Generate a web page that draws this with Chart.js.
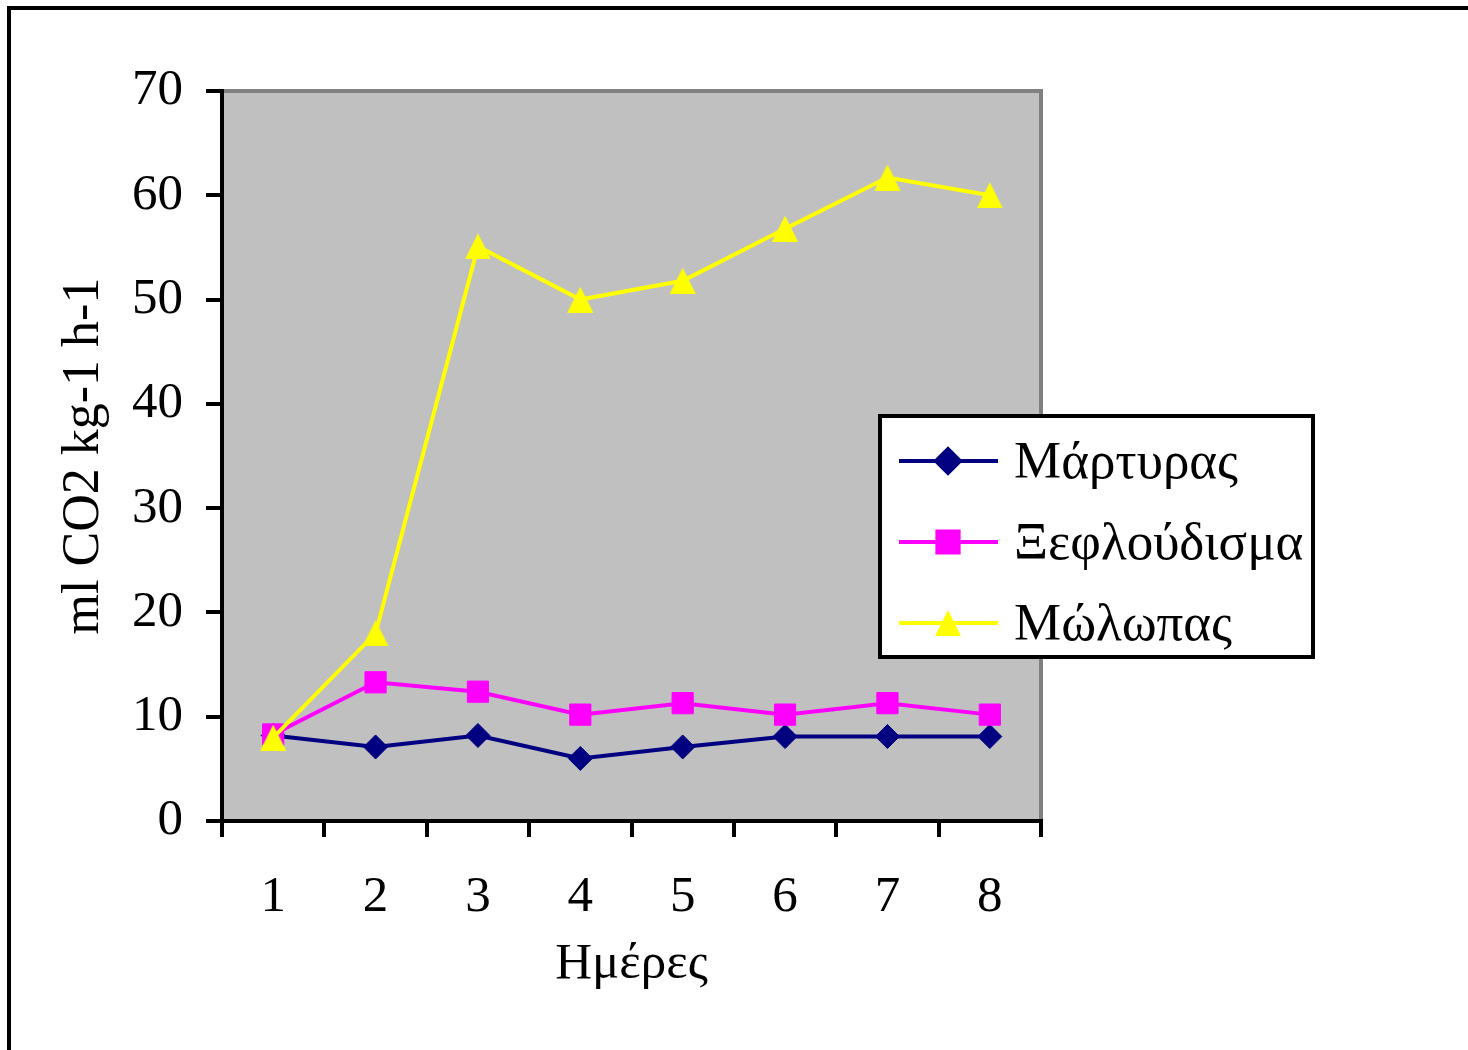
<!DOCTYPE html>
<html lang="el">
<head>
    <meta charset="UTF-8">
    <title>Αναπνοή - Ημέρες</title>
    <style>
        html, body {
            margin: 0;
            padding: 0;
            background: #ffffff;
        }
        #myChart {
            display: block;
        }
    </style>
</head>
<body>

    <canvas id="myChart" width="1468" height="1050"></canvas>

    <script src="https://cdn.jsdelivr.net/npm/chart.js@4.4.1/dist/chart.umd.min.js"></script>

    <script>
        // values
        var days = ['1', '2', '3', '4', '5', '6', '7', '8'];
        var seriesNames = ['Μάρτυρας', 'Ξεφλούδισμα', 'Μώλωπας'];
        var control = [8.2, 7.1, 8.2, 6.0, 7.1, 8.1, 8.1, 8.1];
        var peeled = [8.3, 13.3, 12.4, 10.2, 11.3, 10.2, 11.3, 10.2];
        var bruised = [8.0, 18.0, 55.1, 50.0, 51.8, 56.8, 61.7, 60.0];
        var yTicks = [0, 10, 20, 30, 40, 50, 60, 70];

        var fontFamily = "'Liberation Serif', 'Times New Roman', serif";

        // triangle marker, centred on its box like the original
        var tri = document.createElement('canvas');
        tri.width = 28;
        tri.height = 26;
        var tctx = tri.getContext('2d');
        tctx.fillStyle = '#FFFF00';
        tctx.beginPath();
        tctx.moveTo(14, 0);
        tctx.lineTo(27, 26);
        tctx.lineTo(1, 26);
        tctx.closePath();
        tctx.fill();

        var plotFrame = {
            id: 'plotFrame',
            beforeDraw: function(chart) {
                var ctx = chart.ctx;
                var a = chart.chartArea;
                ctx.save();
                // outer frame
                ctx.fillStyle = '#000000';
                ctx.fillRect(7, 6, 1468, 4);
                ctx.fillRect(7, 6, 4, 1050);
                // plot area
                ctx.fillStyle = '#C0C0C0';
                ctx.fillRect(a.left, a.top, a.right - a.left, a.bottom - a.top);
                ctx.strokeStyle = '#808080';
                ctx.lineWidth = 4;
                ctx.beginPath();
                ctx.moveTo(a.left, a.top);
                ctx.lineTo(a.right, a.top);
                ctx.lineTo(a.right, a.bottom);
                ctx.stroke();
                ctx.restore();
            }
        };

        var boxLegend = {
            id: 'boxLegend',
            afterDraw: function(chart) {
                var ctx = chart.ctx;
                var x0 = 880, y0 = 416, x1 = 1313, y1 = 657;
                var rows = [461, 542, 623];
                ctx.save();
                ctx.fillStyle = '#ffffff';
                ctx.fillRect(x0, y0, x1 - x0, y1 - y0);
                ctx.strokeStyle = '#000000';
                ctx.lineWidth = 4;
                ctx.strokeRect(x0, y0, x1 - x0, y1 - y0);
                chart.data.datasets.forEach(function(ds, i) {
                    var y = rows[i];
                    ctx.strokeStyle = ds.borderColor;
                    ctx.lineWidth = ds.borderWidth;
                    ctx.beginPath();
                    ctx.moveTo(899, y);
                    ctx.lineTo(998, y);
                    ctx.stroke();
                    ctx.fillStyle = ds.pointBackgroundColor;
                    ctx.strokeStyle = ds.pointBorderColor;
                    Chart.helpers.drawPoint(ctx, {
                        pointStyle: ds.pointStyle,
                        radius: ds.pointRadius,
                        rotation: 0,
                        borderWidth: ds.pointBorderWidth
                    }, 948, y);
                    ctx.fillStyle = '#000000';
                    ctx.font = '53px ' + fontFamily;
                    ctx.textAlign = 'left';
                    ctx.textBaseline = 'alphabetic';
                    ctx.fillText(ds.label, 1014, y + 17);
                });
                ctx.restore();
            }
        };

        var ctx = document.getElementById('myChart').getContext('2d');

        var config = {
            type: 'line',
            data: {
                labels: days,
                datasets: [{
                    label: seriesNames[0],
                    data: control,
                    order: 3,
                    borderColor: '#000080',
                    borderWidth: 4,
                    pointStyle: 'rectRot',
                    pointRadius: 12,
                    pointBackgroundColor: '#000080',
                    pointBorderColor: '#000080',
                    pointBorderWidth: 1
                }, {
                    label: seriesNames[1],
                    data: peeled,
                    order: 2,
                    borderColor: '#FF00FF',
                    borderWidth: 4,
                    pointStyle: 'rect',
                    pointRadius: 15,
                    pointBackgroundColor: '#FF00FF',
                    pointBorderColor: '#FF00FF',
                    pointBorderWidth: 1
                }, {
                    label: seriesNames[2],
                    data: bruised,
                    order: 1,
                    borderColor: '#FFFF00',
                    borderWidth: 4,
                    pointStyle: tri,
                    pointRadius: 14,
                    pointBackgroundColor: '#FFFF00',
                    pointBorderColor: '#FFFF00',
                    pointBorderWidth: 0
                }]
            },
            options: {
                responsive: false,
                devicePixelRatio: 1,
                animation: false,
                layout: {
                    padding: { top: 91, right: 427, left: 0, bottom: 0 }
                },
                plugins: {
                    legend: { display: false },
                    tooltip: { enabled: false }
                },
                elements: {
                    line: { tension: 0 }
                },
                scales: {
                    x: {
                        offset: true,
                        afterFit: function(scale) { scale.height = 229; },
                        grid: {
                            offset: true,
                            drawOnChartArea: false,
                            drawTicks: true,
                            tickLength: 16,
                            color: '#000000',
                            lineWidth: 4
                        },
                        border: { display: true, color: '#000000', width: 4 },
                        ticks: {
                            color: '#000000',
                            padding: 30,
                            maxRotation: 0,
                            font: { family: fontFamily, size: 51 }
                        },
                        title: {
                            display: true,
                            text: 'Ημέρες',
                            color: '#000000',
                            padding: { top: 0, bottom: 55 },
                            font: { family: fontFamily, size: 51 }
                        }
                    },
                    y: {
                        min: 0,
                        max: 70,
                        afterFit: function(scale) { scale.width = 222; },
                        afterBuildTicks: function(scale) {
                            scale.ticks = yTicks.map(function(v) { return { value: v }; });
                        },
                        grid: {
                            drawOnChartArea: false,
                            drawTicks: true,
                            tickLength: 16,
                            color: '#000000',
                            lineWidth: 4
                        },
                        border: { display: true, color: '#000000', width: 4 },
                        ticks: {
                            color: '#000000',
                            padding: 23,
                            font: { family: fontFamily, size: 51 }
                        },
                        title: {
                            display: true,
                            text: 'ml CO2 kg-1 h-1',
                            color: '#000000',
                            padding: { top: 53, bottom: 0 },
                            font: { family: fontFamily, size: 52 }
                        }
                    }
                }
            },
            plugins: [plotFrame, boxLegend]
        };

        var chart = new Chart(ctx, config);
    </script>
</body>
</html>
